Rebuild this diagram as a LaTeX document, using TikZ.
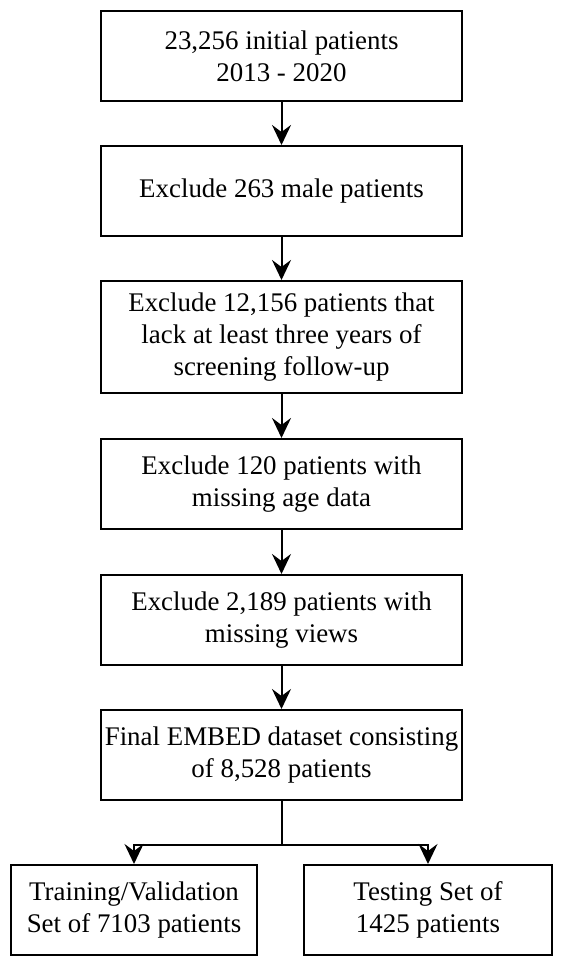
\documentclass[tikz,border=0pt]{standalone}
\usepackage{fontspec}
\setmainfont{LiberationSerif}[Extension=.ttf, UprightFont=*-Regular, BoldFont=*-Bold]
\usetikzlibrary{arrows.meta}
\begin{document}
\begin{tikzpicture}[x=1pt,y=1pt,
  box/.style={draw=black, line width=2pt, rectangle, inner sep=0pt, align=center,
    font=\fontsize{26.9}{32}\selectfont, minimum width=361pt, minimum height=90pt},
  conn/.style={draw=black, line width=2pt, -{Stealth[length=20pt,width=19pt,inset=7pt]}}]
\useasboundingbox (0,0) rectangle (564,964);
\node[box] (b1) at (281.5,908) {23,256 initial patients\\2013 - 2020};
\node[box] (b2) at (281.5,773) {Exclude 263 male patients};
\node[box, minimum height=112pt] (b3) at (281.5,627) {Exclude 12,156 patients that\\lack at least three years of\\screening follow-up};
\node[box] (b4) at (281.5,480) {Exclude 120 patients with\\missing age data};
\node[box] (b5) at (281.5,344) {Exclude 2,189 patients with\\missing views};
\node[box] (b6) at (281.5,209) {Final EMBED dataset consisting\\of 8,528 patients};
\node[box, minimum width=246pt] (l) at (134,54) {Training/Validation\\Set of 7103 patients};
\node[box, minimum width=248pt] (r) at (428,54) {Testing Set of\\1425 patients};
\coordinate (j) at (281.5,119);
\draw[conn] (b1) -- (b2);
\draw[conn] (b2) -- (b3);
\draw[conn] (b3) -- (b4);
\draw[conn] (b4) -- (b5);
\draw[conn] (b5) -- (b6);
\draw[line width=2pt] (b6.south) -- (j);
\draw[conn] (j) -| (l.north);
\draw[conn] (j) -| (r.north);
\end{tikzpicture}
\end{document}
